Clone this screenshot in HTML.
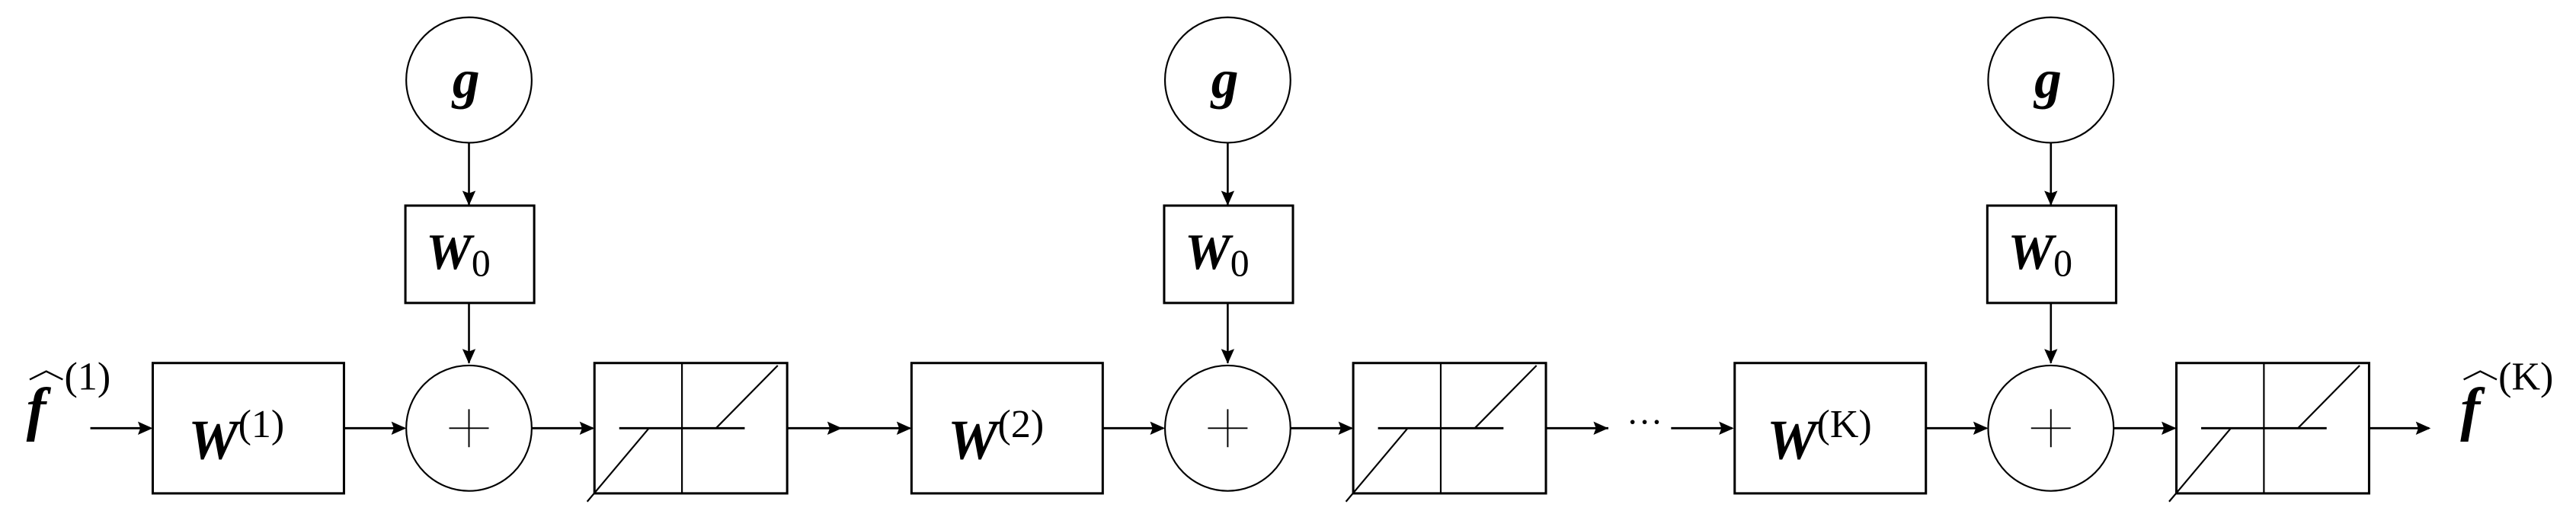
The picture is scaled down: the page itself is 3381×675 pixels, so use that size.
<!DOCTYPE html>
<html><head><meta charset="utf-8"><style>
html,body{margin:0;padding:0;background:#fff;}
svg{display:block;}
</style></head><body>
<svg width="3381" height="675" viewBox="0 0 1560 311.5" preserveAspectRatio="none" xmlns="http://www.w3.org/2000/svg" font-family="'Liberation Serif', 'DejaVu Serif', serif">
<defs>
<g id="ah"><path d="M0,0 L-9,-4 L-7.5,0 L-9,4 Z" fill="#000"/></g>
<g id="sec">
  <circle cx="284" cy="48.5" r="38" fill="none" stroke="#000" stroke-width="1"/>
  <text x="274" y="59" font-size="33" font-weight="bold" font-style="italic" font-family="'Liberation Serif', serif">g</text>
  <line x1="284" y1="86.5" x2="284" y2="124" stroke="#000" stroke-width="1.2"/>
  <use href="#ah" transform="translate(284,124.6) rotate(90)"/>
  <rect x="245.5" y="124.6" width="78" height="59" fill="none" stroke="#000" stroke-width="1.4"/>
  <text x="258" y="163" font-size="31" font-weight="bold" font-style="italic" font-family="'Liberation Serif', serif">W<tspan font-size="23" font-weight="normal" font-style="normal" dy="4">0</tspan></text>
  <line x1="284" y1="184" x2="284" y2="220" stroke="#000" stroke-width="1.2"/>
  <use href="#ah" transform="translate(284,220.5) rotate(90)"/>
  <rect x="92.5" y="220" width="115.8" height="79" fill="none" stroke="#000" stroke-width="1.4"/>
  <circle cx="284" cy="259.5" r="38" fill="none" stroke="#000" stroke-width="1"/>
  <line x1="272" y1="259.5" x2="296" y2="259.5" stroke="#000" stroke-width="0.9"/>
  <line x1="284" y1="248" x2="284" y2="271" stroke="#000" stroke-width="0.9"/>
  <line x1="208.3" y1="259.5" x2="245" y2="259.5" stroke="#000" stroke-width="1.3"/>
  <use href="#ah" transform="translate(246,259.5)"/>
  <rect x="360" y="220" width="116.7" height="79" fill="none" stroke="#000" stroke-width="1.4"/>
  <line x1="413" y1="220" x2="413" y2="299" stroke="#000" stroke-width="1"/>
  <line x1="375" y1="259.5" x2="451" y2="259.5" stroke="#000" stroke-width="1.3"/>
  <line x1="433.6" y1="259.5" x2="471" y2="221.5" stroke="#000" stroke-width="1"/>
  <line x1="393" y1="259.5" x2="355.6" y2="304" stroke="#000" stroke-width="1"/>
  <line x1="322" y1="259.5" x2="359" y2="259.5" stroke="#000" stroke-width="1.3"/>
  <use href="#ah" transform="translate(360,259.5)"/>
</g>
</defs>
<use href="#sec"/>
<use href="#sec" transform="translate(459.5,0)"/>
<use href="#sec" transform="translate(958,0)"/>

<g font-family="'Liberation Serif', serif">
<text x="114" y="278" font-size="34" font-weight="bold" font-style="italic">W<tspan font-size="24" font-weight="normal" font-style="normal" dy="-13">(1)</tspan></text>
<text x="574" y="278" font-size="34" font-weight="bold" font-style="italic">W<tspan font-size="24" font-weight="normal" font-style="normal" dy="-13">(2)</tspan></text>
<text x="1070" y="278" font-size="34" font-weight="bold" font-style="italic">W<tspan font-size="24" font-weight="normal" font-style="normal" dy="-13">(K)</tspan></text>

<text x="16" y="260" font-size="36" font-weight="bold" font-style="italic">f</text>
<path d="M18,230 L28,225 L38,230" fill="none" stroke="#000" stroke-width="1.1"/>
<text x="39" y="236" font-size="24">(1)</text>
<line x1="54.7" y1="259.5" x2="91" y2="259.5" stroke="#000" stroke-width="1.3"/>
<use href="#ah" transform="translate(92.5,259.5)"/>

<line x1="476.7" y1="259.5" x2="551" y2="259.5" stroke="#000" stroke-width="1.3"/>
<use href="#ah" transform="translate(510,259.5)"/>
<use href="#ah" transform="translate(552,259.5)"/>

<line x1="936.2" y1="259.5" x2="974" y2="259.5" stroke="#000" stroke-width="1.3"/>
<use href="#ah" transform="translate(974,259.5)"/>
<text x="985" y="263" font-size="22">···</text>
<line x1="1012" y1="259.5" x2="1049" y2="259.5" stroke="#000" stroke-width="1.3"/>
<use href="#ah" transform="translate(1050,259.5)"/>

<line x1="1434.7" y1="259.5" x2="1471" y2="259.5" stroke="#000" stroke-width="1.3"/>
<use href="#ah" transform="translate(1472,259.5)"/>
<text x="1490" y="260" font-size="36" font-weight="bold" font-style="italic">f</text>
<path d="M1492,230 L1502,225 L1512,230" fill="none" stroke="#000" stroke-width="1.1"/>
<text x="1513" y="236" font-size="24">(K)</text>
</g>
</svg>
</body></html>
